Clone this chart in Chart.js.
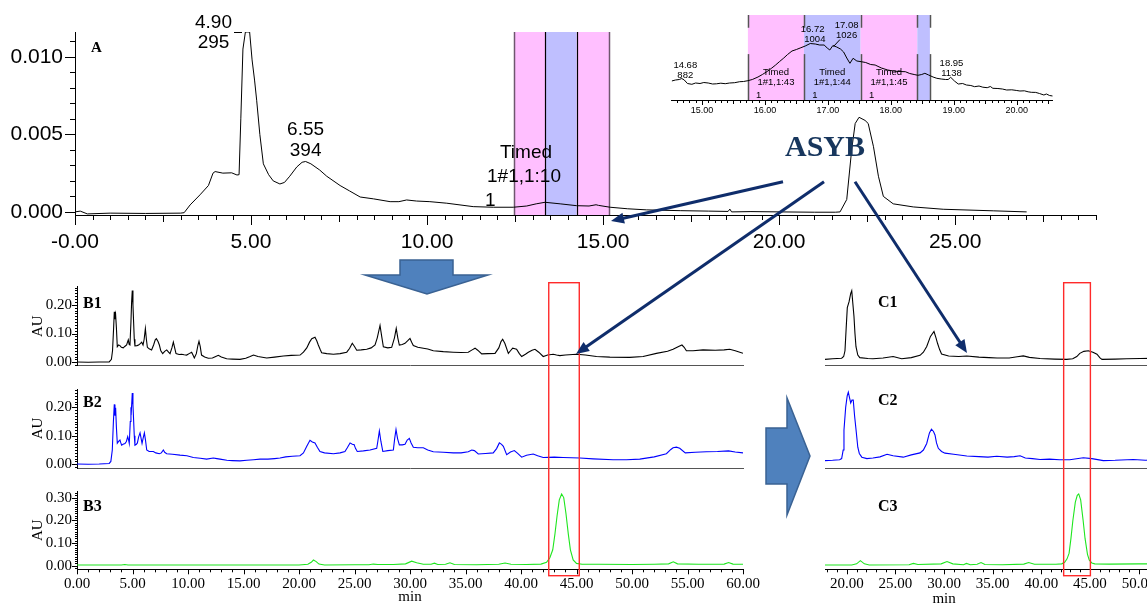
<!DOCTYPE html>
<html>
<head>
<meta charset="utf-8">
<title>ASYB fractionation chromatograms</title>
<script src="https://cdn.jsdelivr.net/npm/chart.js@4.4.1/dist/chart.umd.min.js"></script>
<style>
  html, body { margin: 0; padding: 0; background: #fff; }
  #page { position: relative; width: 1147px; height: 605px; overflow: hidden; background: #fff; }
  #page canvas { position: absolute; }
</style>
</head>
<body>
<div id="page">
  <canvas id="prep" width="1147" height="270" style="left:0;top:0"></canvas>
  <canvas id="zoom" width="420" height="125" style="left:660px;top:0"></canvas>
  <canvas id="b1" width="770" height="115" style="left:0;top:270px"></canvas>
  <canvas id="b2" width="770" height="115" style="left:0;top:372px"></canvas>
  <canvas id="b3" width="770" height="130" style="left:0;top:475px"></canvas>
  <canvas id="c1" width="430" height="115" style="left:780px;top:270px"></canvas>
  <canvas id="c2" width="430" height="115" style="left:780px;top:372px"></canvas>
  <canvas id="c3" width="430" height="130" style="left:780px;top:475px"></canvas>
  <canvas id="overlay" width="1147" height="605" style="left:0;top:0"></canvas>
</div>
<script>
// ---------- Panel A: preparative run (time min, absorbance AU) ----------
const prepTrace = [
  [0,0.0],[0.15,0.00005],[0.35,-0.00013],[1.0,-0.00008],[2.0,-0.0001],[3.0,-0.00008],[3.1,-0.00005],
  [3.27,0.00045],[3.55,0.0011],[3.79,0.0017],[3.92,0.0025],[3.98,0.0026],[4.2,0.0025],[4.45,0.00252],
  [4.6,0.00238],[4.66,0.0024],[4.71,0.006],[4.77,0.0105],[4.84,0.0116],[4.90,0.0116],[4.96,0.0116],
  [5.03,0.0098],[5.1,0.0085],[5.16,0.0072],[5.25,0.005],[5.35,0.0031],[5.5,0.0024],[5.63,0.0020],
  [5.82,0.0018],[5.95,0.0019],[6.1,0.0023],[6.3,0.0029],[6.45,0.0032],[6.55,0.00325],[6.7,0.0031],
  [6.95,0.0027],[7.15,0.0023],[7.53,0.0017],[7.8,0.00135],[8.1,0.00096],[8.48,0.00084],[8.95,0.00066],
  [9.2,0.00066],[9.42,0.00077],[9.7,0.0007],[10.08,0.00066],[10.56,0.00056],[11.31,0.00034],[11.88,0.0003],
  [12.45,0.0003],[12.83,0.00038],[13.1,0.00052],[13.35,0.00062],[13.78,0.00052],[14.25,0.0004],
  [14.6,0.00038],[14.8,0.00046],[14.87,0.00042],[15.2,0.0003],[15.7,0.0002],[16.24,0.00013],
  [17.19,0.00008],[18.0,0.00005],[18.55,0.00003],[18.6,0.00018],[18.65,0.0],[19.2,0.00002],[20.03,0.0],
  [21.0,-0.00002],[21.6,-0.00002],[21.73,0.0],[21.92,0.0008],[22.06,0.004],[22.16,0.0057],[22.27,0.0061],
  [22.44,0.0059],[22.53,0.0057],[22.68,0.0042],[22.82,0.0023],[22.96,0.0010],[23.24,0.00052],
  [23.81,0.00032],[24.66,0.00017],[26.08,0.00007],[27.03,0.0]
];
const prepTimeTicks = [0, 5, 10, 15, 20, 25];
const prepTimeLabels = ['-0.00', '5.00', '10.00', '15.00', '20.00', '25.00'];
const prepAUTicks = [0, 0.005, 0.010];
const prepFractions = [[12.47, 13.36], [13.36, 14.25], [14.25, 15.17]];
const prepPeaks = [{ t: 4.90, scan: '295' }, { t: 6.55, scan: '394' }];
const prepTag = ['Timed', '1#1,1:10', '1'];

// ---------- Inset: 14.5–20.6 min of the preparative run (relative signal) ----------
const zoomTrace = [
  [14.52,19],[14.58,20],[14.64,20.5],[14.68,21.5],[14.72,20],[14.77,16.5],[14.84,15.7],[14.9,17],
  [14.97,16.5],[15.03,17.5],[15.1,17],[15.17,16],[15.23,16.2],[15.3,16.8],[15.37,16.3],[15.44,17],
  [15.52,17.3],[15.6,18.3],[15.66,18.5],[15.73,19.3],[15.8,20.5],[15.89,23],[15.96,25.5],[16.03,28.3],
  [16.1,31.5],[16.17,35],[16.23,38.3],[16.3,42],[16.36,45.5],[16.43,49],[16.5,50.5],[16.56,52],
  [16.64,54],[16.72,56.5],[16.8,56],[16.87,55],[16.94,55],[16.99,52],[17.03,50],[17.08,54.5],
  [17.14,53],[17.2,51],[17.25,48],[17.3,42],[17.35,36.7],[17.4,41.7],[17.46,39],[17.53,38.3],
  [17.6,37.5],[17.68,35.5],[17.75,35],[17.85,32],[17.95,30],[18.04,29],[18.13,28.5],[18.23,28.3],
  [18.3,26.5],[18.37,25.5],[18.43,24.7],[18.49,25.5],[18.54,26.7],[18.6,25],[18.67,23],[18.73,21.7],
  [18.8,21],[18.87,20.5],[18.91,20.5],[18.95,22.7],[19.01,19],[19.07,16],[19.14,16.5],[19.2,15],
  [19.27,14.5],[19.33,13.3],[19.4,14],[19.46,12.8],[19.53,12.3],[19.58,13.5],[19.62,11.7],[19.7,11.5],
  [19.77,11],[19.84,10],[19.92,10.2],[20.0,9.5],[20.05,9],[20.12,9.2],[20.18,8.2],[20.23,7.7],
  [20.3,7.6],[20.36,6.5],[20.43,5],[20.47,6],[20.52,4.5],[20.57,4]
];
const zoomTimeTicks = [15, 16, 17, 18, 19, 20];
const zoomFractions = [[15.73, 16.62], [16.62, 17.52], [17.52, 18.42], [18.42, 18.62]];
const zoomPeaks = [
  { t: 14.68, scan: '882' }, { t: 16.72, scan: '1004' },
  { t: 17.08, scan: '1026' }, { t: 18.95, scan: '1138' }
];
const zoomTags = [['Timed', '1#1,1:43', '1'], ['Timed', '1#1,1:44', '1'], ['Timed', '1#1,1:45', '1']];

// ---------- B: analytical runs 0–60 min (AU) ----------
const traceB1 = [
  [0,0.001],[1,0.0],[2,0.001],[2.9,0.001],[3.1,0.01],[3.2,0.04],[3.3,0.12],[3.36,0.176],[3.42,0.15],
  [3.48,0.165],[3.55,0.12],[3.63,0.054],[3.75,0.06],[3.87,0.058],[4.0,0.052],[4.17,0.05],[4.3,0.055],
  [4.47,0.06],[4.55,0.07],[4.62,0.078],[4.7,0.062],[4.77,0.06],[4.86,0.14],[4.92,0.21],[4.98,0.25],
  [5.04,0.2],[5.1,0.14],[5.16,0.08],[5.22,0.057],[5.4,0.058],[5.55,0.06],[5.7,0.065],[5.83,0.07],
  [5.95,0.06],[6.05,0.08],[6.16,0.117],[6.25,0.08],[6.34,0.052],[6.5,0.047],[6.72,0.043],[6.9,0.06],
  [7.05,0.078],[7.15,0.082],[7.3,0.072],[7.42,0.06],[7.55,0.04],[7.72,0.03],[7.9,0.038],[8.08,0.043],
  [8.25,0.035],[8.38,0.03],[8.55,0.05],[8.68,0.07],[8.8,0.05],[8.92,0.03],[9.2,0.027],[9.43,0.028],
  [9.65,0.026],[9.88,0.025],[10.1,0.03],[10.33,0.035],[10.45,0.025],[10.57,0.015],[10.75,0.03],
  [10.9,0.06],[10.99,0.073],[11.1,0.055],[11.22,0.025],[11.5,0.018],[11.83,0.014],[12.2,0.015],
  [12.5,0.02],[12.73,0.024],[13.0,0.018],[13.48,0.012],[14.0,0.011],[14.68,0.010],[15.2,0.014],
  [15.6,0.02],[15.9,0.025],[16.3,0.02],[17.09,0.015],[17.8,0.018],[18.59,0.022],[19.3,0.024],
  [20.1,0.025],[20.4,0.035],[20.7,0.05],[20.95,0.07],[21.15,0.082],[21.44,0.087],[21.6,0.075],
  [21.74,0.06],[21.9,0.045],[22.04,0.033],[22.5,0.03],[23.1,0.028],[23.7,0.03],[24.3,0.035],
  [24.55,0.048],[24.8,0.066],[25.0,0.055],[25.2,0.042],[25.6,0.043],[26.1,0.045],[26.5,0.05],
  [26.85,0.06],[27.05,0.085],[27.3,0.128],[27.45,0.09],[27.6,0.054],[28.0,0.05],[28.35,0.052],
  [28.6,0.085],[28.76,0.118],[28.9,0.085],[29.04,0.06],[29.3,0.062],[29.55,0.066],[29.8,0.075],
  [30.0,0.083],[30.15,0.07],[30.3,0.058],[30.7,0.052],[31.2,0.049],[31.6,0.046],[32.1,0.04],
  [33.0,0.037],[33.9,0.035],[34.6,0.034],[35.25,0.035],[35.6,0.043],[35.86,0.049],[36.1,0.042],
  [36.46,0.029],[37.0,0.03],[37.66,0.031],[38.0,0.05],[38.2,0.072],[38.35,0.08],[38.55,0.065],
  [38.86,0.031],[39.05,0.04],[39.25,0.049],[39.45,0.047],[39.6,0.045],[39.85,0.03],[40.06,0.02],
  [40.4,0.028],[40.66,0.035],[41.0,0.042],[41.26,0.045],[41.6,0.035],[42.0,0.02],[42.4,0.025],
  [42.9,0.028],[43.2,0.025],[43.5,0.023],[44.0,0.025],[45.0,0.028],[45.8,0.025],[46.8,0.02],
  [48.0,0.018],[49.8,0.017],[51.0,0.02],[52.2,0.031],[53.2,0.038],[53.7,0.045],[54.2,0.055],
  [54.5,0.06],[54.7,0.052],[54.9,0.04],[55.5,0.04],[56.4,0.043],[57.5,0.042],[58.3,0.043],
  [58.8,0.045],[59.3,0.04],[60,0.031]
];
const traceB2 = [
  [0,0.001],[1,0.0],[2,0.001],[2.9,0.003],[3.05,0.01],[3.18,0.05],[3.28,0.15],[3.36,0.21],[3.42,0.17],
  [3.48,0.198],[3.55,0.13],[3.63,0.074],[3.75,0.08],[3.87,0.085],[3.95,0.075],[4.02,0.067],[4.15,0.07],
  [4.32,0.073],[4.45,0.08],[4.57,0.097],[4.65,0.085],[4.71,0.073],[4.8,0.15],[4.86,0.2],[4.9,0.19],
  [4.98,0.25],[5.04,0.21],[5.1,0.155],[5.16,0.1],[5.22,0.067],[5.35,0.07],[5.44,0.075],[5.55,0.095],
  [5.68,0.11],[5.78,0.09],[5.86,0.073],[5.95,0.09],[6.07,0.11],[6.17,0.085],[6.28,0.05],[6.5,0.045],
  [6.88,0.045],[7.1,0.04],[7.42,0.037],[7.6,0.04],[7.78,0.05],[7.9,0.042],[8.08,0.037],[8.6,0.035],
  [9.28,0.032],[9.9,0.03],[10.48,0.024],[11.1,0.021],[11.68,0.018],[12.28,0.022],[12.6,0.02],
  [12.88,0.018],[13.5,0.014],[14.0,0.013],[14.68,0.012],[15.3,0.014],[15.9,0.016],[16.49,0.018],
  [17.2,0.018],[17.8,0.02],[18.29,0.022],[18.8,0.026],[19.4,0.028],[20.09,0.03],[20.4,0.04],
  [20.7,0.063],[20.99,0.084],[21.2,0.078],[21.44,0.075],[21.65,0.06],[21.89,0.045],[22.3,0.04],
  [23.1,0.037],[23.7,0.04],[24.14,0.045],[24.35,0.058],[24.6,0.075],[24.8,0.07],[24.96,0.069],
  [25.1,0.055],[25.25,0.045],[25.8,0.047],[26.4,0.05],[27.0,0.056],[27.1,0.08],[27.24,0.117],
  [27.38,0.08],[27.55,0.045],[28.0,0.048],[28.5,0.05],[28.62,0.09],[28.74,0.122],[28.88,0.09],
  [29.04,0.068],[29.3,0.068],[29.55,0.07],[29.75,0.085],[29.94,0.091],[30.1,0.075],[30.3,0.06],
  [30.7,0.058],[31.2,0.058],[31.6,0.05],[32.1,0.044],[33.0,0.042],[33.9,0.04],[34.6,0.04],
  [35.25,0.044],[35.56,0.05],[35.8,0.048],[36.15,0.036],[36.8,0.038],[37.5,0.04],[37.8,0.055],
  [38.05,0.075],[38.25,0.07],[38.41,0.063],[38.71,0.034],[39.05,0.043],[39.4,0.048],[39.7,0.038],
  [40.06,0.025],[40.5,0.032],[41.1,0.036],[41.5,0.03],[42.0,0.024],[43.0,0.025],[43.8,0.024],
  [45.3,0.022],[46.5,0.019],[48.3,0.016],[49.5,0.016],[50.7,0.018],[52.0,0.026],[53.1,0.037],
  [53.5,0.052],[53.7,0.058],[54.0,0.06],[54.3,0.056],[54.8,0.04],[55.7,0.042],[56.7,0.044],
  [57.7,0.045],[58.7,0.047],[59.3,0.043],[60,0.04]
];
const traceB3 = [
  [0,0.003],[4,0.003],[4.3,0.005],[4.6,0.003],[10,0.003],[15,0.003],[20,0.003],[20.8,0.006],
  [21.1,0.015],[21.3,0.025],[21.55,0.018],[21.8,0.007],[22.3,0.003],[25,0.004],[26.3,0.004],
  [26.7,0.007],[27.1,0.005],[28.5,0.005],[29.6,0.008],[30.15,0.02],[30.6,0.013],[31.2,0.006],
  [31.9,0.006],[32.2,0.011],[32.5,0.005],[33.2,0.006],[33.6,0.013],[34,0.005],[36,0.004],[38,0.006],
  [38.56,0.012],[39.1,0.006],[40.5,0.005],[41.8,0.007],[42.3,0.015],[42.6,0.035],[42.86,0.07],
  [43.06,0.14],[43.25,0.22],[43.45,0.29],[43.66,0.316],[43.85,0.3],[44.05,0.23],[44.26,0.14],
  [44.45,0.07],[44.7,0.025],[45.0,0.01],[45.5,0.006],[47,0.006],[50,0.005],[52,0.006],[53.3,0.008],
  [53.72,0.017],[54.1,0.008],[56,0.006],[58.3,0.007],[58.7,0.014],[59.1,0.007],[60,0.006]
];
const bTimeTicks = [0, 5, 10, 15, 20, 25, 30, 35, 40, 45, 50, 55, 60];
const bAUTicks = [0, 0.1, 0.2];
const b3AUTicks = [0, 0.1, 0.2, 0.3];
const bWindow = [42.5, 45.25];

// ---------- C: analytical runs of the collected fraction (AU) ----------
const traceC1 = [
  [17.75,0.01],[18.5,0.012],[19.4,0.014],[19.6,0.02],[19.73,0.04],[19.85,0.12],[19.96,0.19],
  [20.13,0.21],[20.3,0.24],[20.4,0.249],[20.52,0.2],[20.62,0.16],[20.72,0.1],[20.82,0.054],[21.0,0.025],
  [21.2,0.016],[22.0,0.013],[22.5,0.012],[23.5,0.015],[24.5,0.02],[25.35,0.012],[26.3,0.016],
  [27.17,0.024],[27.5,0.035],[27.83,0.055],[28.2,0.09],[28.55,0.107],[28.75,0.085],[28.9,0.066],
  [29.1,0.045],[29.3,0.029],[30.0,0.022],[31.0,0.02],[31.8,0.022],[33.0,0.018],[34.0,0.016],
  [34.8,0.015],[36.0,0.015],[36.8,0.019],[37.4,0.022],[38.0,0.017],[39.06,0.013],[40.5,0.011],
  [41.7,0.01],[42.3,0.012],[42.7,0.02],[43.0,0.031],[43.4,0.038],[43.85,0.04],[44.3,0.035],
  [44.7,0.028],[45.0,0.015],[45.2,0.01],[46.5,0.011],[47.65,0.012],[49,0.013],[50,0.014],[52,0.013],[55,0.012]
];
const traceC2 = [
  [17.75,0.013],[18.5,0.014],[19.2,0.016],[19.4,0.02],[19.55,0.05],[19.63,0.12],[19.8,0.2],[19.95,0.24],
  [20.06,0.253],[20.2,0.23],[20.3,0.215],[20.42,0.225],[20.55,0.225],[20.68,0.17],[20.8,0.13],[21.0,0.06],
  [21.15,0.038],[21.4,0.025],[21.9,0.02],[22.5,0.022],[23.2,0.026],[23.9,0.035],[24.5,0.03],[25.5,0.025],
  [26.3,0.033],[27.17,0.04],[27.5,0.05],[27.83,0.073],[28.1,0.11],[28.3,0.123],[28.5,0.115],[28.65,0.103],
  [28.8,0.075],[28.98,0.056],[29.3,0.045],[29.64,0.039],[30.5,0.035],[31.8,0.029],[33.0,0.027],
  [33.9,0.025],[34.77,0.028],[35.8,0.025],[36.5,0.027],[37.08,0.03],[37.6,0.022],[38.3,0.02],
  [39.06,0.017],[40.0,0.018],[41.0,0.016],[42.0,0.016],[43.35,0.023],[44.2,0.02],[45.33,0.013],
  [46.5,0.014],[48.3,0.017],[49.5,0.014],[51,0.016],[53,0.015],[55,0.015]
];
const traceC3 = [
  [17.75,0.003],[20.5,0.003],[21.0,0.008],[21.39,0.022],[21.8,0.008],[22.3,0.003],[26.4,0.004],
  [26.84,0.01],[27.3,0.005],[29.7,0.008],[30.3,0.018],[30.9,0.008],[32.0,0.004],[32.3,0.01],[32.7,0.004],
  [33.4,0.006],[33.8,0.014],[34.2,0.005],[36,0.004],[38.2,0.007],[38.7,0.014],[39.3,0.006],[41.5,0.006],
  [42.1,0.008],[42.4,0.015],[42.65,0.03],[42.86,0.055],[43.05,0.12],[43.25,0.2],[43.5,0.28],[43.7,0.31],
  [43.85,0.316],[44.05,0.29],[44.3,0.2],[44.5,0.12],[44.75,0.05],[44.93,0.025],[45.2,0.012],[45.5,0.008],
  [47,0.007],[50,0.008],[52,0.008],[55,0.008]
];
const cTimeTicks = [20, 25, 30, 35, 40, 45, 50, 55];
const cWindow = [42.3, 45.05];

// ---------- drawing helpers ----------
const SANS = '"Liberation Sans", Arial, sans-serif';
const SERIF = '"Liberation Serif", "Times New Roman", serif';
const PINK = '#ffbfff';
const LAVENDER = '#bfbfff';
const NAVY = '#0f2d6b';

// Major/minor tick marks computed from the chart's own scales.
const tickMarks = {
  id: 'tickMarks',
  afterDraw(chart, args, o) {
    const ctx = chart.ctx;
    ctx.save();
    ctx.strokeStyle = '#000';
    ctx.lineWidth = 1;
    ['x', 'y'].forEach(id => {
      const steps = o[id];
      if (!steps) return;
      const s = chart.scales[id];
      ctx.beginPath();
      steps.forEach(([step, len]) => {
        for (let k = Math.ceil(s.min / step - 1e-6); k * step <= s.max + 1e-9; k++) {
          const p = Math.round(s.getPixelForValue(k * step)) + 0.5;
          if (id === 'x') { ctx.moveTo(p, s.top); ctx.lineTo(p, s.top + len); }
          else { ctx.moveTo(s.right - len, p); ctx.lineTo(s.right, p); }
        }
      });
      ctx.stroke();
    });
    ctx.restore();
  }
};

// Shaded fraction windows with their boundary lines.
const fractionBands = {
  id: 'fractionBands',
  beforeDatasetsDraw(chart, args, o) {
    if (!o.fills) return;
    const { ctx, chartArea: a, scales: { x } } = chart;
    const h = a.bottom - a.top;
    ctx.save();
    o.fills.forEach(b => {
      const x0 = x.getPixelForValue(b.from), x1 = x.getPixelForValue(b.to);
      ctx.fillStyle = b.color;
      ctx.fillRect(x0, a.top, x1 - x0, h);
    });
    (o.edges || []).forEach(e => {
      const px = Math.round(x.getPixelForValue(e.at)) + 0.5;
      ctx.strokeStyle = e.color;
      ctx.lineWidth = e.width || 1;
      (e.spans || [[0, 1]]).forEach(([f0, f1]) => {
        ctx.beginPath();
        ctx.moveTo(px, a.top + f0 * h);
        ctx.lineTo(px, a.top + f1 * h);
        ctx.stroke();
      });
    });
    ctx.restore();
  }
};

// Free text and leader lines; x may be given as a time on the x scale.
const notes = {
  id: 'notes',
  afterDraw(chart, args, o) {
    const ctx = chart.ctx;
    ctx.save();
    (o.texts || []).forEach(n => {
      ctx.font = n.font;
      ctx.fillStyle = n.color || '#000';
      ctx.textAlign = n.align || 'center';
      ctx.textBaseline = n.baseline || 'middle';
      const x = n.atX !== undefined ? chart.scales.x.getPixelForValue(n.atX) + (n.dx || 0) : n.x;
      ctx.fillText(n.text, x, n.y);
    });
    (o.lines || []).forEach(l => {
      ctx.strokeStyle = l.color || '#000';
      ctx.lineWidth = l.width || 1;
      ctx.beginPath();
      ctx.moveTo(l.x0, l.y0);
      ctx.lineTo(l.x1, l.y1);
      ctx.stroke();
    });
    ctx.restore();
  }
};

function series(points, color, width) {
  return {
    data: points.map(p => ({ x: p[0], y: p[1] })),
    borderColor: color, borderWidth: width, pointRadius: 0, tension: 0, fill: false
  };
}

function linearAxis(a, horizontal) {
  if (!a.display) return { type: 'linear', display: false, min: a.min, max: a.max };
  const axis = {
    type: 'linear', min: a.min, max: a.max, display: true,
    grid: { display: false, drawTicks: false },
    border: { display: true, color: a.border || '#000', width: 1 },
    afterFit: s => { if (horizontal) s.height = a.fit; else s.width = a.fit; },
    ticks: {
      display: !!a.ticks, autoSkip: false, maxRotation: 0, minRotation: 0,
      padding: a.pad || 0, color: '#000', font: a.font,
      callback: a.labels ? ((v, i) => a.labels[i]) : (v => Number(v).toFixed(a.dec))
    },
    title: a.title || { display: false }
  };
  if (a.ticks) axis.afterBuildTicks = s => { s.ticks = a.ticks.map(v => ({ value: v })); };
  return axis;
}

function makeChart(id, cfg) {
  return new Chart(document.getElementById(id), {
    type: 'line',
    data: { datasets: cfg.datasets },
    options: {
      responsive: false, animation: false, events: [],
      layout: { padding: cfg.padding },
      plugins: {
        legend: { display: false }, tooltip: { enabled: false },
        tickMarks: cfg.marks || {}, fractionBands: cfg.bands || {}, notes: cfg.notes || {}
      },
      scales: { x: linearAxis(cfg.x, true), y: linearAxis(cfg.y, false) }
    },
    plugins: [fractionBands, tickMarks, notes]
  });
}

const auTitle = {
  display: true, text: 'AU', color: '#000',
  font: { family: SERIF, size: 15 }, padding: { top: 29, bottom: 0 }
};
const serifTicks = { family: SERIF, size: 15 };

// ---------- Panel A ----------
makeChart('prep', {
  datasets: [series(prepTrace, '#000', 1)],
  padding: { left: 0, top: 32, right: 51, bottom: 0 },
  x: { display: true, min: 0, max: 29, fit: 55, ticks: prepTimeTicks, labels: prepTimeLabels,
       font: { family: SANS, size: 21 }, pad: 15 },
  y: { display: true, min: -0.0002, max: 0.0116, fit: 75, ticks: prepAUTicks, dec: 3,
       font: { family: SANS, size: 21 }, pad: 12 },
  marks: { x: [[0.5, 5], [2.5, 7], [5, 10]], y: [[0.001, 5], [0.005, 10]] },
  bands: {
    fills: prepFractions.map((f, i) => ({ from: f[0], to: f[1], color: i % 2 ? LAVENDER : PINK })),
    edges: [
      { at: prepFractions[0][0], color: '#6e566e', width: 1.5 },
      { at: prepFractions[1][0], color: '#000', width: 1.2 },
      { at: prepFractions[2][0], color: '#000', width: 1.2 },
      { at: prepFractions[2][1], color: '#6e566e', width: 1.5 }
    ]
  },
  notes: {
    texts: [
      { text: 'A', x: 91, y: 52, align: 'left', baseline: 'alphabetic', font: 'bold 15px ' + SERIF },
      { text: prepPeaks[0].t.toFixed(2), atX: prepPeaks[0].t, dx: -34, y: 23, font: '19px ' + SANS },
      { text: prepPeaks[0].scan, atX: prepPeaks[0].t, dx: -34, y: 43, font: '19px ' + SANS },
      { text: prepPeaks[1].t.toFixed(2), atX: prepPeaks[1].t, dx: 0, y: 130, font: '19px ' + SANS },
      { text: prepPeaks[1].scan, atX: prepPeaks[1].t, dx: 0, y: 151, font: '19px ' + SANS },
      { text: prepTag[0], x: 526, y: 153, font: '19px ' + SANS },
      { text: prepTag[1], x: 524, y: 177, font: '19px ' + SANS },
      { text: prepTag[2], x: 485, y: 201, align: 'left', font: '19px ' + SANS }
    ],
    lines: [{ x0: 234, y0: 32.5, x1: 242, y1: 32.5 }]
  }
});

// ---------- Inset ----------
const zoomFont = '9.5px ' + SANS;
const zoomChart = makeChart('zoom', {
  datasets: [series(zoomTrace, '#000', 1)],
  padding: { left: 11.7, top: 15, right: 27.3, bottom: 0 },
  x: { display: true, min: 14.52, max: 20.57, fit: 25, ticks: zoomTimeTicks, dec: 2,
       font: { family: SANS, size: 9 }, pad: 5 },
  y: { display: false, min: 0, max: 85 },
  marks: { x: [[0.1, 3], [0.5, 4], [1, 5]] },
  bands: {
    fills: zoomFractions.map((f, i) => ({ from: f[0], to: f[1], color: i % 2 ? LAVENDER : PINK })),
    edges: [zoomFractions[0][0]].concat(zoomFractions.map(f => f[1])).map(t => ({
      at: t, color: '#555', width: 1.5, spans: [[0, 0.15], [0.46, 1]]
    }))
  },
  notes: {
    texts: [].concat(
      zoomPeaks.map((p, i) => ({ text: p.t.toFixed(2), atX: p.t, dx: [3.5, 2.4, 13.7, 0.8][i], y: [65, 29, 25, 63][i], font: zoomFont })),
      zoomPeaks.map((p, i) => ({ text: p.scan, atX: p.t, dx: [3.5, 4.6, 13.7, 0.8][i], y: [75, 39, 35, 73][i], font: zoomFont })),
      zoomTags.flatMap((tag, i) => {
        const mid = (zoomFractions[i][0] + zoomFractions[i][1]) / 2;
        return [
          { text: tag[0], atX: mid, dx: 0, y: 72, font: zoomFont },
          { text: tag[1], atX: mid, dx: 0, y: 82, font: zoomFont },
          { text: tag[2], atX: mid, dx: -20, y: 95, align: 'left', font: zoomFont }
        ];
      })
    ),
    lines: [{ x0: 180, y0: 39.5, x1: 173.5, y1: 46.5, width: 1 }]
  }
});

// ---------- Panels B ----------
const tagFont = 'bold 16px ' + SERIF;
const chartB1 = makeChart('b1', {
  datasets: [series(traceB1, '#000', 1.1)],
  padding: { left: 0, top: 16.7, right: 27, bottom: 0 },
  x: { display: true, min: 0, max: 60, fit: 19.3, border: '#555' },
  y: { display: true, min: -0.012, max: 0.263, fit: 77, ticks: bAUTicks, dec: 2, font: serifTicks, pad: 5, title: auTitle },
  marks: { y: [[0.01, 2], [0.1, 5]] },
  notes: { texts: [{ text: 'B1', x: 83, y: 38, align: 'left', baseline: 'alphabetic', font: tagFont }] }
});
makeChart('b2', {
  datasets: [series(traceB2, '#0000ff', 1.1)],
  padding: { left: 0, top: 17, right: 27, bottom: 0 },
  x: { display: true, min: 0, max: 60, fit: 19, border: '#555' },
  y: { display: true, min: -0.013, max: 0.264, fit: 77, ticks: bAUTicks, dec: 2, font: serifTicks, pad: 5, title: auTitle },
  marks: { y: [[0.01, 2], [0.1, 5]] },
  notes: { texts: [{ text: 'B2', x: 83, y: 35, align: 'left', baseline: 'alphabetic', font: tagFont }] }
});
const chartB3 = makeChart('b3', {
  datasets: [series(traceB3, '#1ee61e', 1.1)],
  padding: { left: 0, top: 16, right: 27, bottom: 0 },
  x: { display: true, min: 0, max: 60, fit: 35.7, ticks: bTimeTicks, dec: 2, font: serifTicks, pad: 6 },
  y: { display: true, min: -0.016, max: 0.329, fit: 77, ticks: b3AUTicks, dec: 2, font: serifTicks, pad: 5, title: auTitle },
  marks: { x: [[1, 3], [5, 5]], y: [[0.01, 2], [0.1, 5]] },
  notes: { texts: [
    { text: 'B3', x: 83, y: 36, align: 'left', baseline: 'alphabetic', font: tagFont },
    { text: 'min', atX: 30, dx: 0, y: 122, font: '15px ' + SERIF }
  ] }
});

// ---------- Panels C ----------
makeChart('c1', {
  datasets: [series(traceC1, '#000', 1.1)],
  padding: { left: 45, top: 16.7, right: 9.1, bottom: 0 },
  x: { display: true, min: 17.75, max: 55, fit: 19.3, border: '#555' },
  y: { display: false, min: -0.012, max: 0.263 },
  notes: { texts: [{ text: 'C1', x: 98, y: 37, align: 'left', baseline: 'alphabetic', font: tagFont }] }
});
makeChart('c2', {
  datasets: [series(traceC2, '#0000ff', 1.1)],
  padding: { left: 45, top: 17, right: 9.1, bottom: 0 },
  x: { display: true, min: 17.75, max: 55, fit: 19, border: '#555' },
  y: { display: false, min: -0.013, max: 0.264 },
  notes: { texts: [{ text: 'C2', x: 98, y: 33, align: 'left', baseline: 'alphabetic', font: tagFont }] }
});
const chartC3 = makeChart('c3', {
  datasets: [series(traceC3, '#1ee61e', 1.1)],
  padding: { left: 45, top: 16, right: 9.1, bottom: 0 },
  x: { display: true, min: 17.75, max: 55, fit: 35.7, ticks: cTimeTicks, dec: 2, font: serifTicks, pad: 6 },
  y: { display: false, min: -0.016, max: 0.329 },
  marks: { x: [[1, 3], [5, 5]] },
  notes: { texts: [
    { text: 'C3', x: 98, y: 36, align: 'left', baseline: 'alphabetic', font: tagFont },
    { text: 'min', atX: 30, dx: 0, y: 124, font: '15px ' + SERIF }
  ] }
});

// ---------- Overlay: collection windows, arrows, compound name ----------
(function drawOverlay() {
  const ctx = document.getElementById('overlay').getContext('2d');

  // collection windows spanning the three stacked runs
  ctx.strokeStyle = '#ff2a2a';
  ctx.lineWidth = 1.4;
  const bx0 = chartB3.scales.x.getPixelForValue(bWindow[0]);
  const bx1 = chartB3.scales.x.getPixelForValue(bWindow[1]);
  ctx.strokeRect(bx0, 282.7, bx1 - bx0, 293);
  const cx0 = 780 + chartC3.scales.x.getPixelForValue(cWindow[0]);
  const cx1 = 780 + chartC3.scales.x.getPixelForValue(cWindow[1]);
  ctx.strokeRect(cx0, 282.7, cx1 - cx0, 293);

  // block arrows
  function block(pts) {
    ctx.beginPath();
    pts.forEach((p, i) => i ? ctx.lineTo(p[0], p[1]) : ctx.moveTo(p[0], p[1]));
    ctx.closePath();
    ctx.fillStyle = '#4f81bd';
    ctx.fill();
    ctx.strokeStyle = '#3a6293';
    ctx.lineWidth = 1.5;
    ctx.stroke();
  }
  block([[400, 260], [453, 260], [453, 275], [488, 275], [427, 294], [365, 275], [400, 275]]);
  block([[766, 428], [787, 428], [787, 398], [810, 456], [787, 515], [787, 484], [766, 484]]);

  // compound name
  ctx.fillStyle = '#17365d';
  ctx.font = 'bold 30px ' + SERIF;
  ctx.textAlign = 'center';
  ctx.textBaseline = 'alphabetic';
  ctx.fillText('ASYB', 825, 156);

  // pointer arrows
  function arrow(x0, y0, x1, y1) {
    const ang = Math.atan2(y1 - y0, x1 - x0);
    const L = 13, W = 5.5;
    ctx.strokeStyle = NAVY;
    ctx.fillStyle = NAVY;
    ctx.lineWidth = 3;
    ctx.beginPath();
    ctx.moveTo(x0, y0);
    ctx.lineTo(x1 - Math.cos(ang) * L * 0.8, y1 - Math.sin(ang) * L * 0.8);
    ctx.stroke();
    ctx.beginPath();
    ctx.moveTo(x1, y1);
    ctx.lineTo(x1 - Math.cos(ang) * L - Math.sin(ang) * W, y1 - Math.sin(ang) * L + Math.cos(ang) * W);
    ctx.lineTo(x1 - Math.cos(ang) * L + Math.sin(ang) * W, y1 - Math.sin(ang) * L - Math.cos(ang) * W);
    ctx.closePath();
    ctx.fill();
  }
  arrow(783, 181.7, 611, 221);
  arrow(824, 181.7, 576, 354);
  arrow(855, 181.7, 967, 353);
})();
</script>
</body>
</html>
